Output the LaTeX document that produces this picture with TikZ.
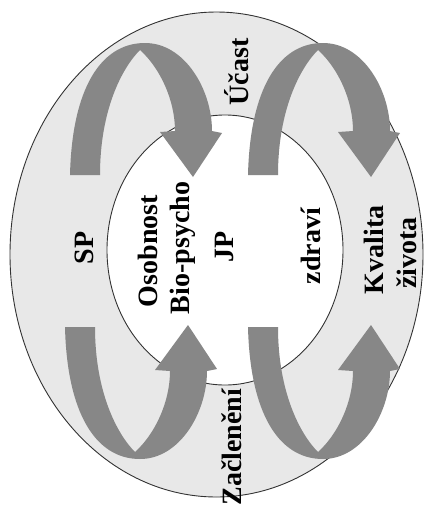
\documentclass[tikz,border=0pt]{standalone}
\usepackage{fontspec}
\setmainfont{Liberation Serif}
\usepackage{tikz}

\begin{document}
\begin{tikzpicture}[
    x=1pt, y=-1pt,
    ring/.style={draw=black!80, line width=0.9pt, fill=black!9},
    hole/.style={draw=black!80, line width=0.9pt, fill=white},
    bigarr/.style={fill=black!47},
    lbl/.style={font=\fontsize{28}{33}\selectfont\bfseries,
                rotate=90, inner sep=0pt}
  ]
    \useasboundingbox (0,0) rectangle (425,509);
    \fill[white] (0,0) rectangle (425,509);
    % outer ring and inner field
    \draw[ring] (216.5,254.5) ellipse [x radius=206.5, y radius=242.5];
    \draw[hole] (225,250) ellipse [x radius=118, y radius=135];
    % four curved arrows (top pair as drawn, bottom pair mirrored)
    \foreach \dx/\dy/\sy in {0/0/1, 178/0/1, -5/502/-1, 178/502/-1}{
      \begin{scope}[shift={(\dx,\dy)}, yscale=\sy]
        \fill[bigarr] (70,175) .. controls (72,90) and (100,43) .. (145,43)
          .. controls (185,43) and (212,90) .. (212,131)
          -- (222,133) -- (193,177) -- (160,132) -- (175,131)
          .. controls (175,100) and (160,68) .. (140,50)
          .. controls (122,68) and (100,110) .. (100,175) -- cycle;
      \end{scope}
    }
    % labels
    \node[lbl] (sp)    at (84,248)  {SP};
    \node[lbl] (osob)  at (148,251) {Osobnost};
    \node[lbl] (bio)   at (183,248) {Bio-psycho};
    \node[lbl] (jp)    at (224,247) {JP};
    \node[lbl] (zdr)   at (311,246) {zdraví};
    \node[lbl] (kval)  at (374,250) {Kvalita};
    \node[lbl] (ziv)   at (407,253) {života};
    \node[lbl] (ucast) at (237,72)  {Účast};
    \node[lbl] (zacl)  at (232,447) {Začlenění};
\end{tikzpicture}
\end{document}
